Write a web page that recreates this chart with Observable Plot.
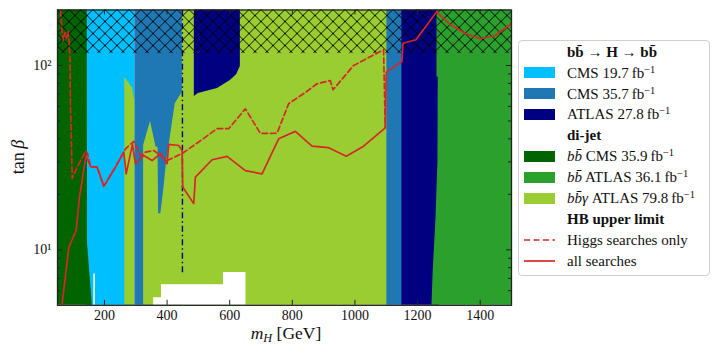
<!DOCTYPE html>
<html><head><meta charset="utf-8">
<script src="https://cdn.jsdelivr.net/npm/d3@7"></script>
<script src="https://cdn.jsdelivr.net/npm/@observablehq/plot@0.6"></script>
<style>
body{margin:0;background:#fff;}
#wrap{position:relative;width:720px;height:356px;font-family:"Liberation Serif",serif;color:#111;overflow:hidden;}
#legend{position:absolute;left:518px;top:40px;width:192px;height:236px;border:1px solid #cfcfcf;border-radius:4px;background:rgba(255,255,255,0.9);box-sizing:border-box;}
.row{position:absolute;left:0;height:20px;width:190px;font-size:15px;white-space:nowrap;}
.row .txt{position:absolute;left:48px;top:0;line-height:20px;}
.row .sw{position:absolute;left:5px;top:4.5px;width:31px;height:11px;}
.row svg{position:absolute;left:5px;top:0;}
sup{font-size:0.7em;vertical-align:0.5em;line-height:0;}
#xlab{position:absolute;left:0;width:572px;text-align:center;top:325.5px;font-size:17.5px;line-height:14px;}
#xlab span{display:inline-block;}
#xlab sub{font-size:0.7em;vertical-align:-0.25em;line-height:0;}
#ylab{position:absolute;left:-42px;top:146px;width:120px;text-align:center;font-size:18px;line-height:22px;transform:rotate(-90deg);}
</style></head>
<body><div id="wrap"></div>
<script>
// ---------- data (m_H in GeV, tan beta) ----------
const xDomain = [50, 1500];
const yDomain = [5, 200];
const xTicks = [200, 400, 600, 800, 1000, 1200, 1400];
const yTicks = [10, 100];
const yTickLabels = ["10¹", "10²"];
const yMinorTicks = [6, 7, 8, 9, 20, 30, 40, 50, 60, 70, 80, 90];

// bb -> H -> bb, CMS 19.7 fb-1 : excluded m ranges (all tan beta)
const cms197Bands = [[140, 297]];
// bb -> H -> bb, CMS 35.7 fb-1
const cms357Bands = [[297, 449], [1100, 1152]];
// bb -> H -> bb, ATLAS 27.8 fb-1 : band and upper island (m, lower tan beta)
const atlas278Bands = [[1150, 1270]];
const atlas278Island = [[487, 67.9], [500, 70.5], [561, 75], [602, 82.8], [622, 89], [634, 98.8]];
const atlas278Edge = [{m: 449, t1: 7.5, t2: 200}];
// di-jet bb-gamma ATLAS 79.8 fb-1 : upper boundary (m, tan beta)
const bbgTop = [[265, 86], [289, 76], [297, 64.6], [297, 5], [325, 5], [325, 36.8], [347, 49.7],
  [365, 36], [371, 36], [373, 15.7], [380, 15.7], [389, 21], [399, 30.5], [415, 46.2],
  [426, 62], [449, 71.6], [449, 200], [1102, 200]];
// di-jet bb CMS 35.9 fb-1 : right edge (tan beta, m)
const bbCmsEdge = [[200, 145], [10.8, 146], [5.5, 159.5], [5, 161]];
// di-jet bb ATLAS 36.1 fb-1 : left edge (tan beta, m)
const bbAtlasEdge = [[200, 1262], [87, 1262], [86, 1266], [30, 1265], [15, 1259], [7.7, 1250], [5, 1246]];
// allowed (not excluded) pockets at low tan beta : (m, upper tan beta)
const allowedLow = [[357, 5.5], [382, 5.5], [382, 6.47], [580, 6.47], [580, 7.53], [652, 7.53]];
const allowedSliver = [[166, 7.4], [171, 7.4]];
// hatched region: tan beta above
const hatchBand = [{t1: 116, t2: 200}];

// HiggsBounds upper limits (m, tan beta)
const higgsOnly = [[59.6, 198.6], [65.0, 149.1], [69.1, 136.7], [73.9, 151], [78.7, 140.1], [83.5, 152.9],
  [86.7, 136.7], [89.9, 106.4], [91.5, 57.0], [93.7, 44.4], [96.9, 24.4], [112.9, 28.1], [139.4, 34.3],
  [145.7, 33.5], [155.3, 28.3], [176.7, 28.1], [197.8, 22.1], [235.1, 28.1], [261.6, 33.9], [267.0, 35.3],
  [293.5, 38.8], [314.9, 32.5], [331.2, 33.9], [357.3, 34.6], [400.1, 30.5], [448.0, 33.3], [485.0, 36.8],
  [559.7, 45.4], [596.7, 45.4], [650.0, 58.2], [697.9, 42.8], [751.2, 42.9], [788.2, 62.0], [841.5, 71.4],
  [867.0, 76.9], [878.8, 79.6], [921.3, 82.8], [929.9, 73.8], [995.7, 100], [1091.4, 121.7], [1096.8, 45.9]];
const allSearches = [[64.5, 5.0], [65.0, 5.11], [86.1, 10.33], [109.7, 12.73], [120.2, 19.29], [141.0, 32.5],
  [155.3, 28.3], [176.7, 28.1], [197.8, 22.1], [235.1, 28.1], [261.6, 33.9], [269.3, 25.8], [289.4, 37.3],
  [298.9, 29.3], [325.4, 32.5], [352.2, 30.5], [378.8, 33.3], [400.1, 29.3], [405.2, 37.3], [437.1, 36.8],
  [448.0, 34.6], [449.9, 21.9], [485.0, 17.8], [490.4, 24.8], [543.7, 30.8], [591.6, 32.1], [650.0, 26.9],
  [703.3, 25.8], [756.3, 40.0], [809.6, 43.9], [862.9, 36.5], [915.9, 35.8], [972.3, 32.2], [1027.6, 36.5],
  [1096.8, 45.9], [1100.0, 92.0], [1150.1, 105.1], [1153.3, 132.1], [1194.8, 137.9], [1261.8, 196],
  [1275, 185], [1304.3, 166.9], [1352.2, 149.1], [1400.0, 139.6], [1447.9, 145.5], [1499, 168.4]];

// legend entries
const legendEntries = [
  {kind: "head", html: "bb̄ → H → bb̄"},
  {kind: "patch", key: "cms197", html: "CMS 19.7&thinsp;fb<sup>−1</sup>"},
  {kind: "patch", key: "cms357", html: "CMS 35.7&thinsp;fb<sup>−1</sup>"},
  {kind: "patch", key: "atlas278", html: "ATLAS 27.8&thinsp;fb<sup>−1</sup>"},
  {kind: "head", html: "di-jet"},
  {kind: "patch", key: "bbCms", html: "<i>bb̄</i> CMS 35.9&thinsp;fb<sup>−1</sup>"},
  {kind: "patch", key: "bbAtlas", html: "<i>bb̄</i> ATLAS 36.1&thinsp;fb<sup>−1</sup>"},
  {kind: "patch", key: "bbg", html: "<i>bb̄γ</i> ATLAS 79.8&thinsp;fb<sup>−1</sup>"},
  {kind: "head", html: "HB upper limit"},
  {kind: "dash", html: "Higgs searches only"},
  {kind: "solid", html: "all searches"}
];

// ---------- styles ----------
const col = {cms197: "#00bfff", cms357: "#1f77b4", atlas278: "#000080", bbCms: "#006400",
  bbAtlas: "#2ca02c", bbg: "#9acd32", red: "#d62728", ink: "#222"};
const W = 720, H = 356, mL = 57, mR = 209, mT = 9.5, mB = 51.2;
const fw = W - mL - mR, fh = H - mT - mB;
const [y0, y1] = yDomain, [x0, x1] = xDomain;
const m = d => d[0], v = d => d[1];

const svg = Plot.plot({
  width: W, height: H, marginLeft: mL, marginRight: mR, marginTop: mT, marginBottom: mB,
  x: {domain: xDomain, label: null},
  y: {type: "log", domain: yDomain, label: null},
  style: {fontFamily: "'Liberation Serif', serif", fontSize: "14px", background: "white", color: "#111"},
  marks: [
    Plot.rect(cms197Bands, {x1: m, x2: v, y1: y0, y2: y1, fill: col.cms197}),
    Plot.rect(cms357Bands, {x1: m, x2: v, y1: y0, y2: y1, fill: col.cms357}),
    Plot.rect(atlas278Bands, {x1: m, x2: v, y1: y0, y2: y1, fill: col.atlas278}),
    Plot.areaY(bbgTop, {x: m, y1: y0, y2: v, fill: col.bbg, curve: "linear"}),
    Plot.areaY(atlas278Island, {x: m, y1: v, y2: y1, fill: col.atlas278, curve: "linear"}),
    Plot.areaX(bbCmsEdge, {y: m, x1: x0, x2: v, fill: col.bbCms, curve: "linear"}),
    Plot.areaX(bbAtlasEdge, {y: m, x1: v, x2: x1, fill: col.bbAtlas, curve: "linear"}),
    Plot.areaY(allowedLow, {x: m, y1: y0, y2: v, fill: "white", curve: "linear"}),
    Plot.areaY(allowedSliver, {x: m, y1: y0, y2: v, fill: "white", curve: "linear"}),
    Plot.ruleX(atlas278Edge, {x: "m", y1: "t1", y2: "t2", stroke: col.atlas278, strokeWidth: 1.4, strokeDasharray: "6,3,1.5,3"}),
    Plot.rect(hatchBand, {x1: x0, x2: x1, y1: "t1", y2: "t2", fill: "url(#hatch)"}),
    Plot.line(higgsOnly, {x: m, y: v, stroke: col.red, strokeWidth: 1.7, strokeDasharray: "5.5,3", clip: true}),
    Plot.line(allSearches, {x: m, y: v, stroke: col.red, strokeWidth: 1.7, clip: true}),
    Plot.ruleX(xTicks, {insetTop: fh - 5, stroke: col.ink}),
    Plot.ruleX(xTicks, {insetBottom: fh - 5, stroke: col.ink}),
    Plot.ruleY(yTicks, {insetRight: fw - 5, stroke: col.ink}),
    Plot.ruleY(yTicks, {insetLeft: fw - 5, stroke: col.ink}),
    Plot.ruleY(yMinorTicks, {insetRight: fw - 3, stroke: col.ink}),
    Plot.ruleY(yMinorTicks, {insetLeft: fw - 3, stroke: col.ink}),
    Plot.axisX(xTicks, {tickSize: 0, tickPadding: 5, fontSize: 14, label: null, tickFormat: d => String(d)}),
    Plot.axisY(yTicks, {tickSize: 0, tickPadding: 6, fontSize: 14, label: null,
      tickFormat: d => yTickLabels[yTicks.indexOf(d)]}),
    Plot.frame({stroke: col.ink, strokeWidth: 1.3})
  ]
});
d3.select(svg).insert("defs", ":first-child").html(
  '<pattern id="hatch" patternUnits="userSpaceOnUse" width="12" height="12" x="' + mL + '" y="' + mT + '">' +
  '<path d="M-1,-1L13,13M13,-1L-1,13" stroke="#000" stroke-width="0.9" fill="none"/></pattern>');

const wrap = document.getElementById("wrap");
wrap.appendChild(svg);

const xl = document.createElement("div");
xl.id = "xlab"; xl.innerHTML = "<span><i>m</i><sub><i>H</i></sub>&nbsp;[GeV]</span>";
wrap.appendChild(xl);
const yl = document.createElement("div");
yl.id = "ylab"; yl.innerHTML = "tan&thinsp;<i>β</i>";
wrap.appendChild(yl);

const lg = document.createElement("div");
lg.id = "legend";
legendEntries.forEach((e, i) => {
  const r = document.createElement("div");
  r.className = "row";
  r.style.top = (51.7 + i * 20.9 - 41 - 10) + "px";
  let h = "";
  if (e.kind === "patch") h += `<div class="sw" style="background:${col[e.key]}"></div>`;
  if (e.kind === "dash" || e.kind === "solid")
    h += `<svg width="32" height="20"><line x1="0" x2="31" y1="10" y2="10" stroke="${col.red}" stroke-width="1.7" ${e.kind === "dash" ? 'stroke-dasharray="6,3.5"' : ""}/></svg>`;
  h += `<span class="txt">${e.kind === "head" ? "<b>" + e.html + "</b>" : e.html}</span>`;
  r.innerHTML = h;
  lg.appendChild(r);
});
wrap.appendChild(lg);
</script></body></html>
